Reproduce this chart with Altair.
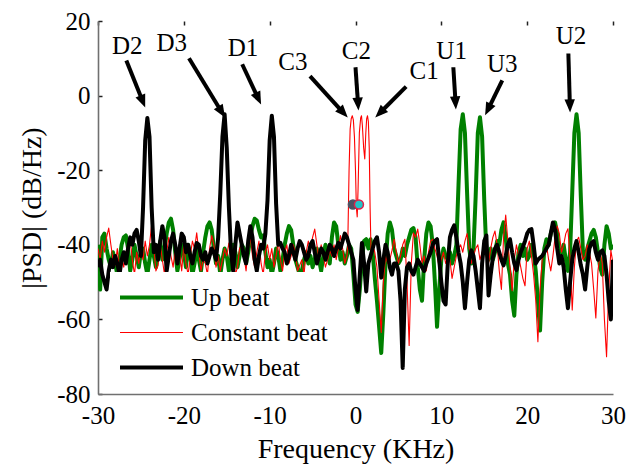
import math
import altair as alt
import pandas as pd

# ---------------- data ----------------
series_names = ["Up beat", "Constant beat", "Down beat"]
series_colors = ["#008000", "#ff0000", "#000000"]

grid_start = -30.0
grid_step = 0.25

# Up beat (green) on a 0.25 kHz grid from -30 to 30
up_beat_psd = [
    -40, -52, -38, -37, -41, -44, -46, -42, -45, -48, -44, -40, -38, -37.5, -41, -47, -44, -40, -43, -46,
    -42, -41, -45, -48, -44, -40, -43, -46, -42, -39, -44, -41, -37, -34, -33, -36, -42, -47, -44, -40,
    -42, -46, -40, -43, -48, -45, -41, -44, -47, -42, -38, -35, -34, -36, -41, -45, -43, -48, -44, -41,
    -43, -47, -44, -40, -42, -46, -43, -40, -41, -45, -42, -38, -35, -33, -33.5, -36, -38, -37.5, -42, -46,
    -44, -48, -45, -41, -43, -47, -44, -40, -37, -35, -36, -40, -44, -46, -48, -47, -44, -42, -45, -43,
    -46, -44, -41, -44, -47, -43, -40, -42, -45, -38, -34, -35, -40, -44, -42, -45, -43, -40, -41, -48,
    -56, -58, -52, -44, -39, -38.5, -41, -38.5, -42, -49, -55, -62, -69, -58, -45, -37, -34, -36, -41, -43,
    -45, -44, -41, -43, -40, -38, -36, -35.5, -38, -46, -52, -55, -44, -37, -34, -35, -40, -50, -62, -52,
    -44, -41, -43, -44, -42, -45, -43, -40, -24, -9, -5, -10, -26, -41, -45, -41, -27, -10, -5.8, -11,
    -28, -42, -44, -41, -44, -42, -39, -40, -36, -34, -38, -45, -48, -55, -59, -48, -42, -40, -43, -41,
    -44, -43, -40, -42, -47, -55, -63, -50, -41, -38.5, -40, -37, -35, -34, -37, -43, -42, -40, -44, -47,
    -42, -26, -10, -5, -10, -27, -42, -44, -41, -39, -37, -36, -38, -42, -46, -48, -40, -35, -37, -41, -40,
]

# Down beat (black) on the same grid
down_beat_psd = [
    -46, -44, -48, -50, -52, -47, -44, -46, -43, -45, -48, -44, -42, -45, -41, -38, -40, -37, -36, -39,
    -43, -30, -12, -6, -11, -30, -42, -40, -44, -39, -35, -38, -47, -43, -39, -37, -40, -45, -41, -37,
    -38, -42, -40, -43, -45, -42, -39.5, -40, -43, -44, -42, -45, -43, -41, -42, -44, -38, -26, -11, -5,
    -14, -30, -42, -47, -40, -34, -37, -40, -43, -45, -39, -35, -38, -44, -47, -43, -40, -41, -37, -28,
    -12, -5.4, -11, -29, -40, -39.5, -41, -42, -45, -43, -40, -42, -44, -41, -39, -40, -42, -44, -43, -40,
    -39, -42, -45, -43, -41, -42, -44, -42, -40, -41, -43, -41, -39.5, -41, -39, -37, -38, -40, -42, -44,
    -52, -57.5, -48, -39.5, -45, -52.5, -45, -43, -41, -39, -38, -42, -48.8, -44, -40, -42, -46, -48, -45, -45,
    -47, -55, -73, -52, -46, -45, -47, -48, -46, -44, -45, -46, -47, -45, -43.5, -42, -40, -39, -38.5, -44,
    -50, -55, -56, -45, -38, -36, -34.8, -38, -42, -45, -50, -57, -50, -44, -41.5, -43, -47, -52, -57, -45,
    -39, -37.5, -53.6, -48, -43.5, -41, -40, -42, -44, -45.5, -43, -40, -38.5, -42, -45, -46.8, -44, -42, -40.6, -39,
    -37, -36, -35.8, -40, -45, -44, -43.5, -43, -42, -41, -40, -37, -34, -36, -41, -45, -43, -46, -52, -57,
    -50, -44, -41, -39, -42, -45.5, -48, -52, -46, -41, -39.5, -39, -42, -44, -42, -41.5, -43, -48, -55, -60, -44,
]

# Constant beat (red): grid part left of the triple peak (-30 .. -1.25)
const_left_psd = [
    -41, -44, -39, -42, -38, -35.5, -40, -44, -45.5, -41, -47, -43, -46, -42, -40, -38.5, -44, -48, -42, -45,
    -41, -44, -39, -43, -40, -34.6, -41, -47, -45.5, -40, -44, -48, -42, -38, -43, -46, -41, -44, -42, -47,
    -40, -45, -48, -43, -39, -41, -36.8, -42, -47, -44, -45, -48, -41, -37.5, -40, -46, -43, -47, -44, -41,
    -43, -39.5, -44, -42, -48, -46, -41, -40, -43, -47, -41, -38, -43, -46, -42, -39, -45, -48, -42, -40,
    -44, -41, -46, -43, -39, -44, -47, -42, -40, -45, -43, -40, -42, -47, -45.5, -44, -48, -42, -39, -41,
    -38, -35.8, -40, -44, -40, -43, -46, -44, -41.5, -43, -40, -44, -41, -37.5, -41, -45,
]
# Constant beat: the C3 / C2 / C1 peaks, read point by point
const_center_freq = [-1.0, -0.9, -0.75, -0.625, -0.5, -0.375, -0.25, -0.125, 0.0, 0.1, 0.2, 0.3, 0.45,
                     0.6, 0.7, 0.8, 0.95, 1.08, 1.2, 1.3, 1.4, 1.5, 1.6, 1.7, 1.83, 2.0]
const_center_psd = [-43, -40, -20, -9, -6.2, -5.4, -6.5, -11, -20, -30, -32.5, -25, -10,
                    -6, -5.4, -8, -14, -17, -10, -6.2, -5.4, -7, -14, -30, -44, -40]
# Constant beat: grid part right of the peaks (2.25 .. 30)
const_right_start = 2.25
const_right_psd = [
    -42, -46, -55, -63.5, -50, -43, -45, -44, -41.5, -38.5, -42,
    -45, -43, -40, -38.5, -50, -67, -45, -36.8, -38, -35.8, -40, -45, -43, -47, -42, -39, -38.5, -41, -43, -46,
    -44, -42, -45, -43, -44, -49, -46, -43, -41, -40, -42, -39, -37, -41, -45, -43, -41, -40, -44, -42,
    -39.4, -43, -45, -41, -38, -36.3, -40, -47, -52, -38, -32, -39, -46, -52.3, -44, -40, -43, -46, -49, -51,
    -41, -39, -43, -48, -55, -66, -52, -44, -42, -40, -44, -47, -43, -38, -35, -37, -42, -40, -37, -35.7,
    -44, -57.5, -46, -39, -38, -41, -44, -43, -40, -42, -45, -52, -59.6, -47, -42, -45, -60, -70, -52, -41.5, -45,
]

# Peak annotations
ann_labels = ["D2", "D3", "D1", "C3", "C2", "C1", "U1", "U3", "U2"]
ann_text_f = [-26.6, -21.4, -13.1, -7.3, 0.1, 8.0, 11.2, 17.1, 25.1]
ann_text_v = [13.2, 14.0, 12.7, 8.9, 11.9, 6.5, 11.9, 8.4, 15.9]
arrow_f0 = [-26.7, -19.4, -13.2, -5.3, 0.0, 5.9, 11.4, 17.1, 24.8]
arrow_v0 = [9.4, 10.0, 8.4, 5.2, 7.6, 2.4, 7.6, 4.1, 11.3]
arrow_f1 = [-24.5, -15.2, -11.0, -0.9, 0.35, 2.3, 11.7, 15.1, 25.0]
arrow_v1 = [-3.2, -5.9, -2.4, -5.9, -4.0, -5.9, -3.7, -5.3, -4.5]

# small markers near C2
marker_f = [-0.3, 0.4]
marker_v = [-29.2, -29.2]
marker_fill = ["#4d5263", "#22c4c8"]
marker_ring = ["#4d5263", "#e0204a"]

# ---------------- layout constants ----------------
X_DOMAIN = [-30, 30]
Y_DOMAIN = [-80, 20]
PLOT_W, PLOT_H = 515, 373
FONT = "'Liberation Serif', 'Times New Roman', 'DejaVu Serif', serif"
X_TITLE = "Frequency (KHz)"
Y_TITLE = "|PSD| (dB/Hz)"

# ---------------- build tables ----------------
freq_grid = [grid_start + grid_step * i for i in range(len(up_beat_psd))]
assert len(up_beat_psd) == 241 and len(down_beat_psd) == 241
const_left_freq = [grid_start + grid_step * i for i in range(len(const_left_psd))]
const_right_freq = [const_right_start + grid_step * i for i in range(len(const_right_psd))]
assert len(const_left_psd) == 116 and len(const_right_psd) == 112
assert len(const_center_freq) == len(const_center_psd)
const_freq = const_left_freq + const_center_freq + const_right_freq
const_psd = const_left_psd + const_center_psd + const_right_psd

rows = []
for f, v in zip(freq_grid, up_beat_psd):
    rows.append({"freq": f, "psd": v, "series": "Up beat"})
for f, v in zip(const_freq, const_psd):
    rows.append({"freq": f, "psd": v, "series": "Constant beat"})
for f, v in zip(freq_grid, down_beat_psd):
    rows.append({"freq": f, "psd": v, "series": "Down beat"})
df = pd.DataFrame(rows)

# arrows: head centre pulled back from the tip, rotation from screen direction
sx = PLOT_W / (X_DOMAIN[1] - X_DOMAIN[0])
sy = PLOT_H / (Y_DOMAIN[1] - Y_DOMAIN[0])
HEAD = 13  # arrow head length in px
arrows = []
for lab, tf, tv, f0, v0, f1, v1 in zip(ann_labels, ann_text_f, ann_text_v, arrow_f0, arrow_v0, arrow_f1, arrow_v1):
    dxp = (f1 - f0) * sx
    dyp = (v1 - v0) * sy
    L = math.hypot(dxp, dyp)
    ux, uy = dxp / L, dyp / L
    fc = f1 - (HEAD / 2) * ux / sx
    vc = v1 - (HEAD / 2) * uy / sy
    ang = math.degrees(math.atan2(dxp, dyp)) % 360
    arrows.append({"label": lab, "tf": tf, "tv": tv, "f0": f0, "v0": v0, "fc": fc, "vc": vc, "angle": ang})
adf = pd.DataFrame(arrows)
mdf = pd.DataFrame({"f": marker_f, "v": marker_v, "fill": marker_fill, "ring": marker_ring})

# ---------------- chart ----------------
x_scale = alt.Scale(domain=X_DOMAIN, nice=False, zero=False)
y_scale = alt.Scale(domain=Y_DOMAIN, nice=False, zero=False)

axis_common = dict(
    labelFont=FONT, labelFontSize=25, labelColor="black",
    titleFont=FONT, titleFontSize=28, titleFontWeight="normal", titleColor="black",
    ticks=False, tickSize=0,
    domainColor="#707070", domainWidth=1.6,
    grid=True, gridDash=[4, 2000], gridColor="#222222", gridWidth=1.5,
    labelExpr="'' + datum.value",
)
x_axis = alt.Axis(values=[-30, -20, -10, 0, 10, 20, 30], labelPadding=9, titlePadding=7,
                  labelFlush=False, **axis_common)
y_axis = alt.Axis(values=[-80, -60, -40, -20, 0, 20], labelPadding=8, titlePadding=10, **axis_common)


def X(field):
    return alt.X(field, scale=x_scale, axis=x_axis, title=X_TITLE)


def Y(field):
    return alt.Y(field, scale=y_scale, axis=y_axis, title=Y_TITLE)


legend = alt.Legend(
    orient="none", legendX=12, legendY=251, fillColor="white", padding=8,
    symbolType="stroke", symbolSize=3969, clipHeight=35, rowPadding=0,
    labelFont=FONT, labelFontSize=25, labelColor="black", labelOffset=6, labelLimit=400,
    title=None,
)

lines = alt.Chart(df).mark_line(clip=True, strokeJoin="round").encode(
    x=X("freq:Q"),
    y=Y("psd:Q"),
    color=alt.Color("series:N", scale=alt.Scale(domain=series_names, range=series_colors),
                    legend=legend, sort=series_names),
    strokeWidth=alt.StrokeWidth("series:N",
                                scale=alt.Scale(type="ordinal", domain=series_names, range=[4, 1.1, 4]),
                                legend=legend, sort=series_names),
)

markers = alt.Chart(mdf).mark_point(filled=True, size=81, opacity=1, strokeWidth=1.5).encode(
    x=X("f:Q"),
    y=Y("v:Q"),
    fill=alt.Fill("fill:N", scale=None),
    stroke=alt.Stroke("ring:N", scale=None),
)

shafts = alt.Chart(adf).mark_rule(strokeWidth=4, color="black").encode(
    x=X("f0:Q"),
    y=Y("v0:Q"),
    x2="fc:Q",
    y2="vc:Q",
)

heads = alt.Chart(adf).mark_point(
    shape="M0,-1L0.8,1L-0.8,1Z", filled=True, size=HEAD * HEAD, color="black", opacity=1
).encode(
    x=X("fc:Q"),
    y=Y("vc:Q"),
    angle=alt.Angle("angle:Q", scale=None),
)

texts = alt.Chart(adf).mark_text(font=FONT, fontSize=25, color="black", align="center",
                                 baseline="middle").encode(
    x=X("tf:Q"),
    y=Y("tv:Q"),
    text="label:N",
)

chart = alt.layer(lines, markers, shafts, heads, texts).properties(
    width=PLOT_W, height=PLOT_H,
    autosize=alt.AutoSizeParams(type="none"),
    padding={"left": 98, "top": 21, "right": 26, "bottom": 71},
    background="white",
).configure(font=FONT).configure_axis(
    labelFont=FONT, titleFont=FONT, labelFontSize=25, titleFontSize=28, titleFontWeight="normal"
).configure_legend(labelFont=FONT).configure_text(font=FONT).configure_view(stroke=None)

chart.save("out.html", embed_options={"renderer": "svg", "actions": False})
